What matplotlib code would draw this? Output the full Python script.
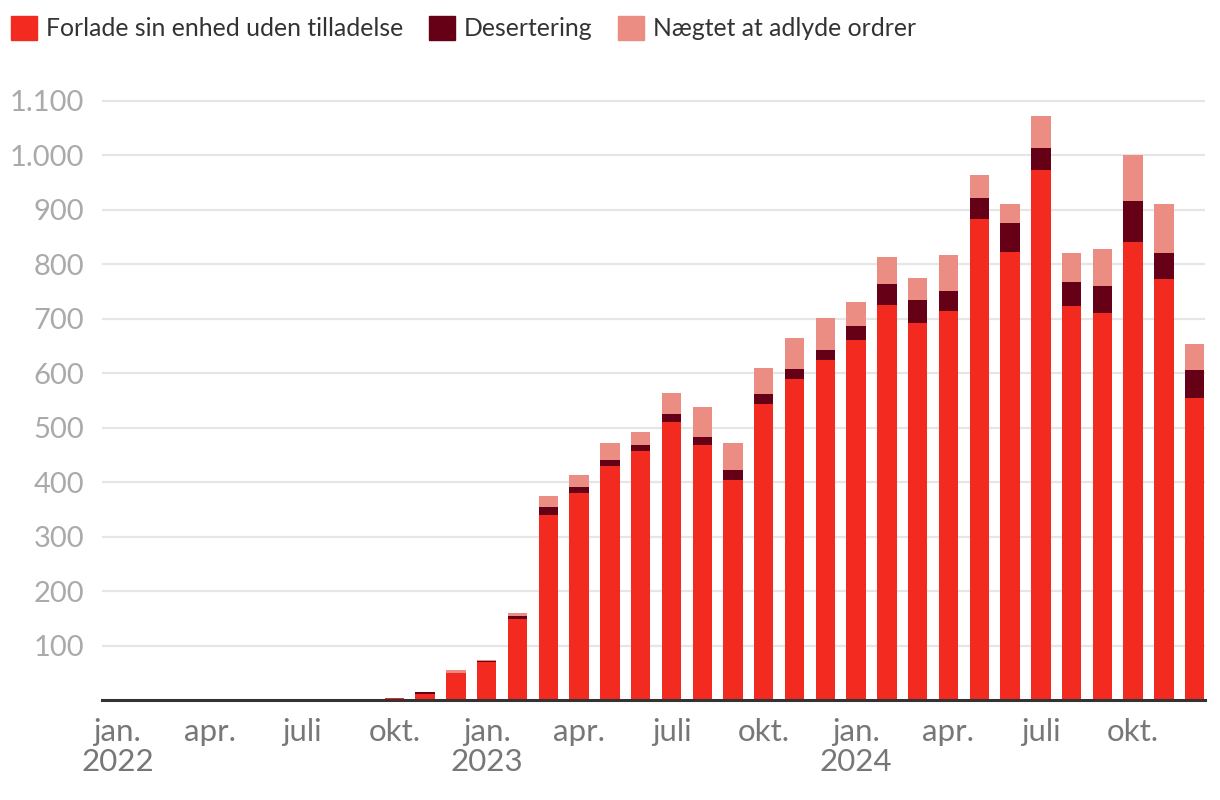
import numpy as np
import matplotlib.pyplot as plt
from matplotlib.patches import Patch

plt.rcParams['font.family'] = ['Lato', 'DejaVu Sans']

# ---- data: monthly counts, jan 2022 - dec 2024 ----
months = [f"{y}-{m:02d}" for y in (2022, 2023, 2024) for m in range(1, 13)]

forlade = [0, 0, 0, 0, 0, 0, 0, 0, 0, 3, 11, 49,
           70, 149, 339, 380, 429, 457, 510, 468, 404, 543, 589, 624,
           660, 725, 692, 714, 883, 822, 972, 723, 710, 840, 772, 554]
desertering = [0, 0, 0, 0, 0, 0, 0, 0, 0, 0, 3, 0,
               1, 5, 15, 11, 11, 11, 15, 15, 18, 18, 18, 18,
               26, 38, 42, 37, 38, 53, 42, 44, 50, 75, 48, 52]
naegtet = [0, 0, 0, 0, 0, 0, 0, 0, 0, 0, 0, 6,
           2, 6, 20, 22, 31, 24, 38, 55, 50, 48, 57, 59,
           44, 50, 40, 66, 42, 35, 57, 53, 68, 86, 90, 48]

labels = ["Forlade sin enhed uden tilladelse", "Desertering", "Nægtet at adlyde ordrer"]
colors = ["#f22a1f", "#650016", "#eb8d83"]

tick_pos = [0, 3, 6, 9, 12, 15, 18, 21, 24, 27, 30, 33]
tick_labels = ["jan.\n2022", "apr.", "juli", "okt.",
               "jan.\n2023", "apr.", "juli", "okt.",
               "jan.\n2024", "apr.", "juli", "okt."]
yticks = [100, 200, 300, 400, 500, 600, 700, 800, 900, 1000, 1100]

x = np.arange(len(months))
f = np.array(forlade)
d = np.array(desertering)
n = np.array(naegtet)

fig = plt.figure(figsize=(12.2, 8), dpi=100)
ax = fig.add_axes([0.0836, 0.125, 0.904, 0.756])

w = 0.63
ax.bar(x, f, width=w, color=colors[0], zorder=3)
ax.bar(x, d, width=w, bottom=f, color=colors[1], zorder=3)
ax.bar(x, n, width=w, bottom=f + d, color=colors[2], zorder=3)

ax.set_xlim(-0.5, 35.33)
ax.set_ylim(0, 1110)

ax.set_yticks(yticks)
ax.set_yticklabels([f"{v:,}".replace(",", ".") for v in yticks])
ax.yaxis.grid(True, color="#e6e6e6", linewidth=1.6, zorder=0)
ax.tick_params(axis="y", length=0, pad=13, labelsize=21, labelcolor="#aaaaaa")

ax.set_xticks(tick_pos)
ax.set_xticklabels(tick_labels, linespacing=1.1)
ax.tick_params(axis="x", length=0, pad=13, labelsize=22.5, labelcolor="#777777")

for s in ["top", "right", "left"]:
    ax.spines[s].set_visible(False)
ax.spines["bottom"].set_color("#333333")
ax.spines["bottom"].set_linewidth(2.2)
ax.spines["bottom"].set_zorder(4)

handles = [Patch(color=c, label=l) for c, l in zip(colors, labels)]
fig.legend(handles=handles, loc="upper left", bbox_to_anchor=(-0.009, 1.008),
           ncol=3, frameon=False, fontsize=17.8, labelcolor="#333333",
           handlelength=1.05, handleheight=1.15, handletextpad=0.35,
           columnspacing=1.05, borderaxespad=0.5)

fig.savefig("out.png", dpi=100)
